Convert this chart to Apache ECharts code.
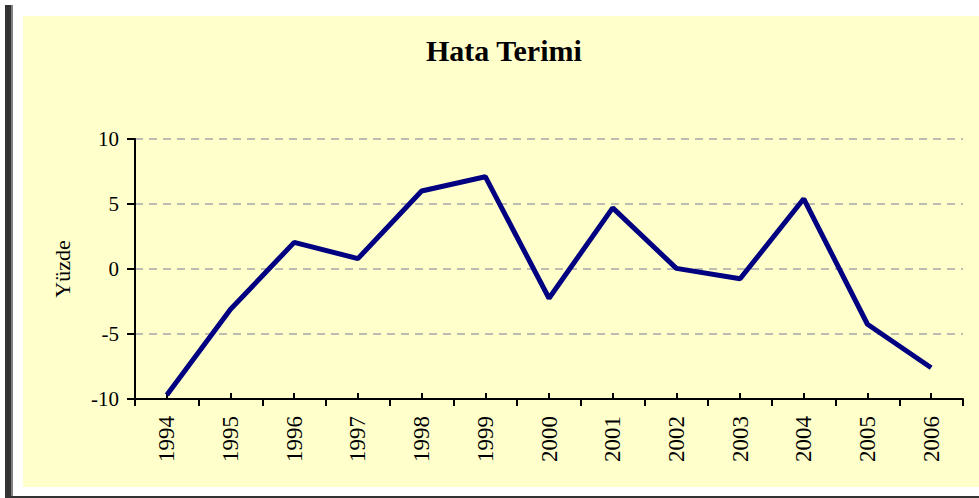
<!DOCTYPE html>
<html>
<head>
<meta charset="utf-8">
<script src="https://cdn.jsdelivr.net/npm/echarts@6/dist/echarts.min.js"></script>
<style>
html,body{margin:0;padding:0;background:#fff;width:979px;height:498px;overflow:hidden;}
#bar{position:absolute;left:5px;top:5px;width:6px;height:493px;background:#333;}
#bar2{position:absolute;left:11px;top:5px;width:2px;height:493px;background:#808080;}
#bottom{position:absolute;left:11px;top:496px;width:968px;height:2px;background:#333;}
#panel{position:absolute;left:23px;top:16px;width:956px;height:471px;background:#FFFFCC;}
#chart{position:absolute;left:0;top:0;width:979px;height:498px;}
</style>
</head>
<body>
<div id="panel"></div>
<div id="bar"></div>
<div id="bar2"></div>
<div id="bottom"></div>
<div id="chart"></div>
<script>
const titleText = 'Hata Terimi';
const yAxisName = 'Yüzde';
const years = ['1994','1995','1996','1997','1998','1999','2000','2001','2002','2003','2004','2005','2006'];
const values = [-9.7, -3.1, 2.05, 0.8, 6.0, 7.1, -2.25, 4.7, 0.05, -0.75, 5.4, -4.25, -7.6];
const yTicks = {min: -10, max: 10, interval: 5};

const serif = '"Liberation Serif", "Times New Roman", serif';
const chart = echarts.init(document.getElementById('chart'), null, {renderer: 'svg'});
chart.setOption({
  backgroundColor: 'transparent',
  animation: false,
  title: {
    text: titleText,
    left: 421,
    top: 30,
    textStyle: {fontFamily: serif, fontSize: 30, fontWeight: 'bold', color: '#000'}
  },
  grid: {left: 135, right: 16, top: 139, bottom: 99, containLabel: false},
  xAxis: [{
    type: 'category',
    data: years,
    boundaryGap: true,
    axisLine: {onZero: false, lineStyle: {color: '#000', width: 2}},
    axisTick: {show: true, alignWithLabel: false, inside: false, length: 7, lineStyle: {color: '#000', width: 2}},
    axisLabel: {rotate: 90, margin: 17, fontFamily: serif, fontSize: 23, color: '#000', interval: 0},
    splitLine: {show: false}
  }, {
    type: 'category',
    data: years,
    boundaryGap: true,
    position: 'bottom',
    axisLine: {show: false, onZero: false},
    axisTick: {show: true, alignWithLabel: true, inside: true, length: 6, interval: 0, lineStyle: {color: '#000', width: 2}},
    axisLabel: {show: false},
    splitLine: {show: false}
  }],
  yAxis: {
    type: 'value',
    min: yTicks.min,
    max: yTicks.max,
    interval: yTicks.interval,
    name: yAxisName,
    nameLocation: 'middle',
    nameGap: 62,
    nameRotate: 90,
    nameTextStyle: {fontFamily: serif, fontSize: 22, color: '#000'},
    axisLine: {show: true, lineStyle: {color: '#000', width: 2}},
    axisTick: {show: true, length: 8, lineStyle: {color: '#000', width: 2}},
    axisLabel: {margin: 16, fontFamily: serif, fontSize: 21, color: '#000'},
    splitLine: {show: true, lineStyle: {color: '#a6a6a6', width: 1.5, type: [8, 6]}}
  },
  series: [{
    type: 'line',
    data: values,
    xAxisIndex: 0,
    symbol: 'none',
    lineStyle: {color: '#000080', width: 5},
    itemStyle: {color: '#000080'}
  }]
});
</script>
</body>
</html>
